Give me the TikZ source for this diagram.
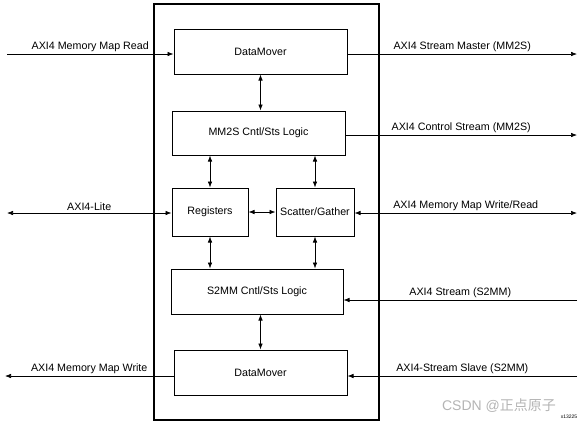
\documentclass[tikz,border=0pt]{standalone}
\usepackage{fontspec}
\setmainfont{Liberation Sans}
\newfontfamily\cjk{Noto Sans CJK SC}
\usepackage{tikz}
\usetikzlibrary{arrows.meta, positioning}
\definecolor{WmGray}{HTML}{B4B4B4}

\begin{document}
\begin{tikzpicture}[x=1pt, y=-1pt,
    font=\fontsize{10.7}{12}\selectfont,
    blk/.style={draw, line width=1pt, inner sep=0pt},
    lnk/.style={line width=0.6pt, -{Latex[length=6pt,width=4.5pt]}},
    bilnk/.style={line width=0.6pt, {Latex[length=6pt,width=4.5pt]}-{Latex[length=6pt,width=4.5pt]}},
    lbl/.style={midway, above, inner sep=2pt}]
        \useasboundingbox (0,0) rectangle (583,424);
        % outer frame
        \draw[line width=1.2pt] (154,4) rectangle (379,420);
        % blocks
        \node[blk, minimum width=173pt, minimum height=45pt] (dmtop) at (260.5,51.5) {DataMover};
        \node[blk, minimum width=173pt, minimum height=44pt] (mm2s) at (258.5,133) {MM2S Cntl/Sts Logic};
        \node[blk, minimum width=76pt, minimum height=48pt] (reg) at (210,212) {Registers};
        \node[blk, minimum width=78pt, minimum height=48pt] (sg) at (315,212) {Scatter/Gather};
        \node[blk, minimum width=172pt, minimum height=45pt] (s2mm) at (257,291.5) {S2MM Cntl/Sts Logic};
        \node[blk, minimum width=173pt, minimum height=45pt] (dmbot) at (260.5,372.5) {DataMover};
        % free ends
        \coordinate (mmrd) at (7,54);
        \coordinate (smst) at (577,54);
        \coordinate (ctrl) at (577,135);
        \coordinate (lite) at (7,213);
        \coordinate (mmwr) at (577,213);
        \coordinate (sts) at (577,300);
        \coordinate (sslv) at (577,376);
        \coordinate (mmw) at (5,376);
        % outside connections
        \draw[lnk] (mmrd) -- (mmrd -| dmtop.west) node[lbl] {AXI4 Memory Map Read};
        \draw[lnk] (smst -| dmtop.east) -- (smst) node[lbl] {AXI4 Stream Master (MM2S)};
        \draw[lnk] (ctrl -| mm2s.east) -- (ctrl) node[lbl] {AXI4 Control Stream (MM2S)};
        \draw[bilnk] (lite) -- (lite -| reg.west) node[lbl] {AXI4-Lite};
        \draw[bilnk] (mmwr -| sg.east) -- (mmwr) node[lbl] {AXI4 Memory Map Write/Read};
        \draw[lnk] (sts) -- (sts -| s2mm.east) node[lbl] {AXI4 Stream (S2MM)};
        \draw[lnk] (sslv) -- (sslv -| dmbot.east) node[lbl] {AXI4-Stream Slave (S2MM)};
        \draw[lnk] (mmw -| dmbot.west) -- (mmw) node[lbl] {AXI4 Memory Map Write};
        % inside connections
        \draw[bilnk] (dmtop.south) -- (dmtop.south |- mm2s.north);
        \draw[bilnk] (reg.north) -- (reg.north |- mm2s.south);
        \draw[bilnk] (sg.north) -- (sg.north |- mm2s.south);
        \draw[bilnk] (reg.east) -- (sg.west);
        \draw[bilnk] (reg.south) -- (reg.south |- s2mm.north);
        \draw[bilnk] (sg.south) -- (sg.south |- s2mm.north);
        \draw[bilnk] (dmbot.north |- s2mm.south) -- (dmbot.north);
        % watermark
        \node[text=WmGray, font=\fontsize{14}{16}\selectfont, inner sep=0pt] (wm) at (499,406) {CSDN @\cjk 正点原子};
        \node[font=\fontsize{5}{6}\selectfont, inner sep=0pt] (fig) at (569,417) {x13225};
      \end{tikzpicture}
\end{document}
